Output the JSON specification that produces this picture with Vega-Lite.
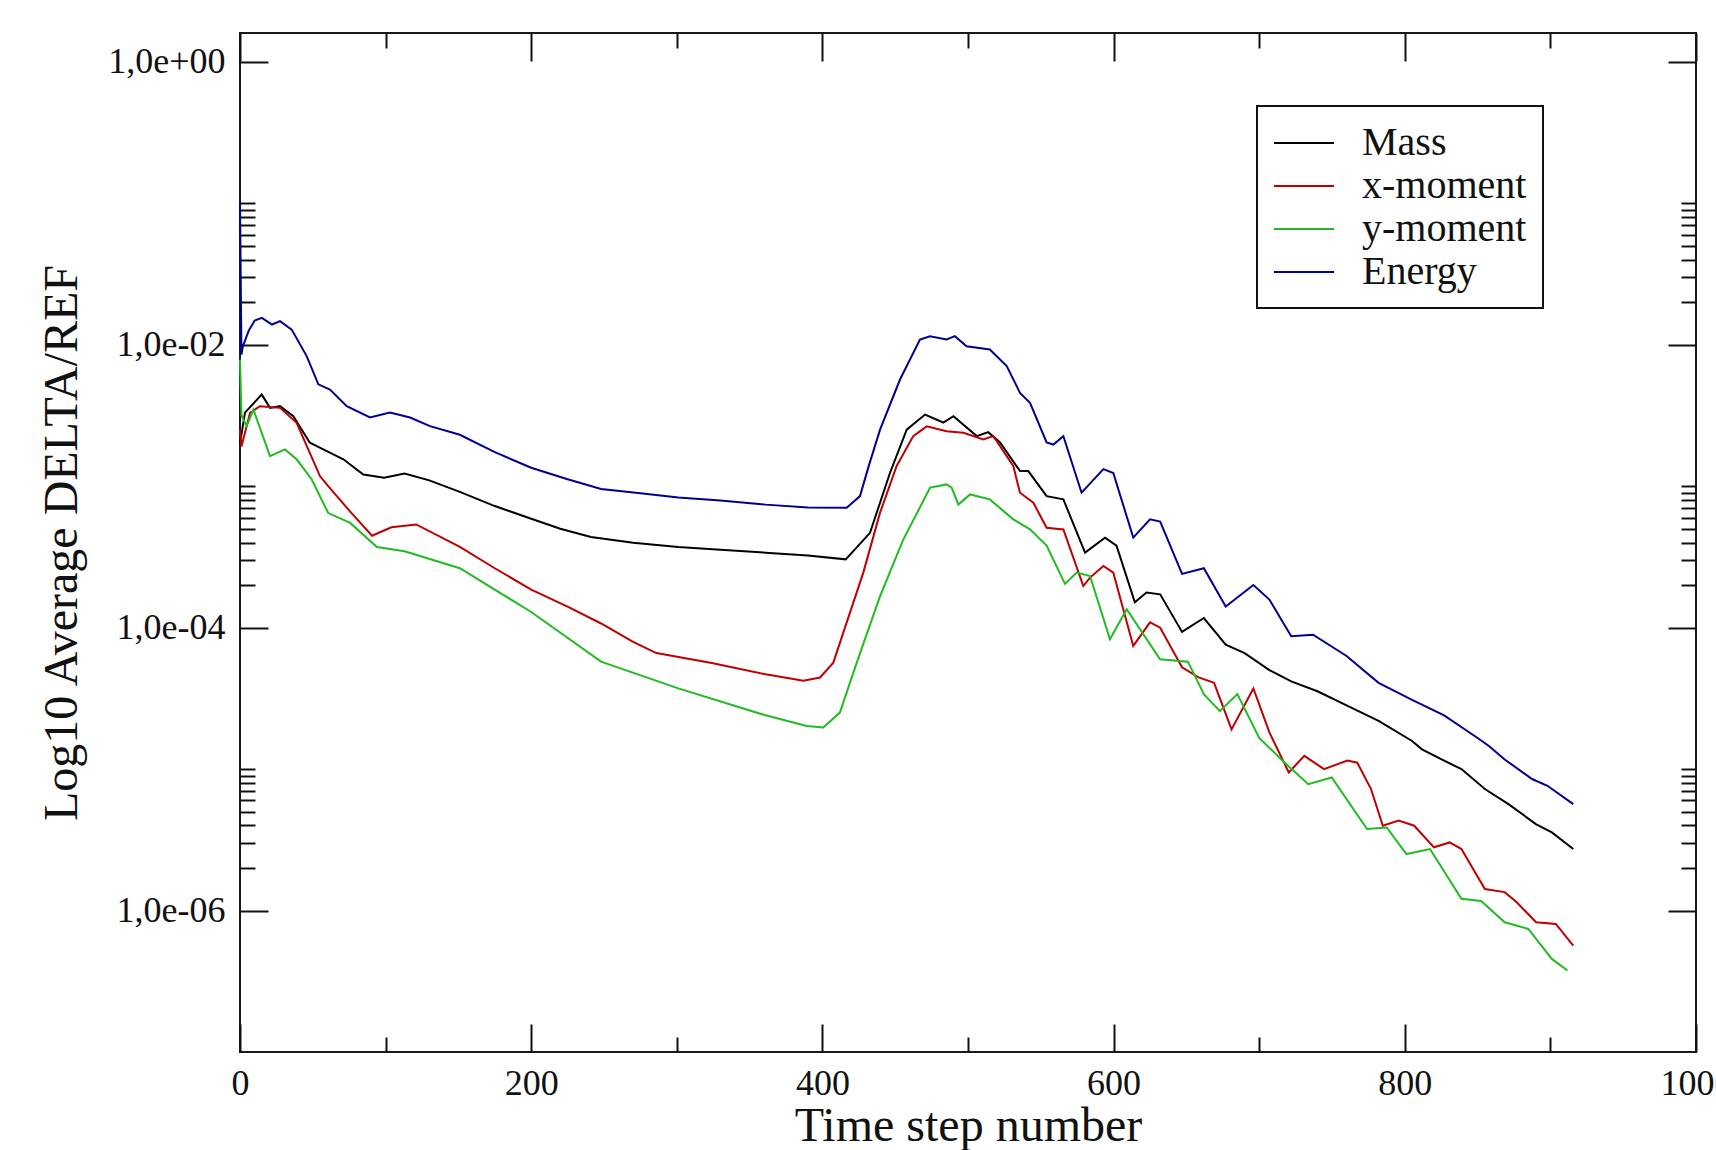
{
  "$schema": "https://vega.github.io/schema/vega-lite/v6.json",
  "width": 1456,
  "height": 1019,
  "autosize": {"type": "none"},
  "padding": {"left": 240, "top": 33, "right": 20, "bottom": 98},
  "background": "#ffffff",
  "config": {
    "view": {"stroke": "#1a1a1a", "strokeWidth": 2},
    "axis": {"grid": false, "domain": false, "tickColor": "#111111", "tickWidth": 2, "labelFont": "Liberation Serif", "labelFontSize": 36, "labelColor": "#111111", "titleFont": "Liberation Serif", "titleFontSize": 48, "titleFontWeight": "normal", "titleColor": "#111111", "labelFlush": false, "labelOverlap": false},
    "legend": {"orient": "none", "legendX": 1017, "legendY": 73, "strokeColor": "#111111", "strokeWidth": 2, "fillColor": "#ffffff", "padding": 16, "labelFont": "Liberation Serif", "labelFontSize": 40, "labelColor": "#111111", "labelLimit": 0, "symbolType": "M-1,0H2", "symbolSize": 1600, "symbolStrokeWidth": 2, "labelOffset": 47, "rowPadding": 2, "titleFontSize": 0}
  },
  "datasets": {
    "d": [
      {"s":"Energy","t":0,"v":0.102},{"s":"Energy","t":1,"v":0.00851},{"s":"Energy","t":2,"v":0.00977},{"s":"Energy","t":6,"v":0.0126},{"s":"Energy","t":10,"v":0.0148},{"s":"Energy","t":15,"v":0.0155},{"s":"Energy","t":22,"v":0.0139},{"s":"Energy","t":27.5,"v":0.0147},{"s":"Energy","t":35.5,"v":0.0128},{"s":"Energy","t":45.8,"v":0.00832},{"s":"Energy","t":53.8,"v":0.00525},{"s":"Energy","t":61.8,"v":0.00483},{"s":"Energy","t":73.3,"v":0.00368},{"s":"Energy","t":89.3,"v":0.00306},{"s":"Energy","t":103,"v":0.00332},{"s":"Energy","t":116.8,"v":0.00306},{"s":"Energy","t":130.5,"v":0.00266},{"s":"Energy","t":151,"v":0.00231},{"s":"Energy","t":175,"v":0.00174},{"s":"Energy","t":200,"v":0.00135},{"s":"Energy","t":225,"v":0.00112},{"s":"Energy","t":248,"v":0.000955},{"s":"Energy","t":275,"v":0.000891},{"s":"Energy","t":301,"v":0.000832},{"s":"Energy","t":330,"v":0.000794},{"s":"Energy","t":361,"v":0.000741},{"s":"Energy","t":390,"v":0.000708},{"s":"Energy","t":416.7,"v":0.000705},{"s":"Energy","t":425.8,"v":0.000851},{"s":"Energy","t":432,"v":0.00141},{"s":"Energy","t":439.6,"v":0.00251},{"s":"Energy","t":453.3,"v":0.00568},{"s":"Energy","t":467,"v":0.0109},{"s":"Energy","t":473.9,"v":0.0115},{"s":"Energy","t":485.3,"v":0.0109},{"s":"Energy","t":491,"v":0.0115},{"s":"Energy","t":499,"v":0.00977},{"s":"Energy","t":515,"v":0.00925},{"s":"Energy","t":526.6,"v":0.00708},{"s":"Energy","t":535.7,"v":0.00457},{"s":"Energy","t":542.6,"v":0.00389},{"s":"Energy","t":554,"v":0.00204},{"s":"Energy","t":558.6,"v":0.00197},{"s":"Energy","t":565.5,"v":0.00226},{"s":"Energy","t":578,"v":0.0009},{"s":"Energy","t":593,"v":0.00132},{"s":"Energy","t":599.8,"v":0.00124},{"s":"Energy","t":613.5,"v":0.000433},{"s":"Energy","t":625,"v":0.000583},{"s":"Energy","t":632,"v":0.000562},{"s":"Energy","t":647,"v":0.00024},{"s":"Energy","t":662,"v":0.000263},{"s":"Energy","t":677,"v":0.000141},{"s":"Energy","t":696,"v":0.0002},{"s":"Energy","t":707,"v":0.000158},{"s":"Energy","t":722,"v":0.0000871},{"s":"Energy","t":737,"v":0.0000891},{"s":"Energy","t":760,"v":0.0000631},{"s":"Energy","t":782,"v":0.0000407},{"s":"Energy","t":805,"v":0.0000309},{"s":"Energy","t":827,"v":0.000024},{"s":"Energy","t":850,"v":0.0000166},{"s":"Energy","t":858,"v":0.0000145},{"s":"Energy","t":868.6,"v":0.0000117},{"s":"Energy","t":887.4,"v":0.00000851},{"s":"Energy","t":898,"v":0.00000762},{"s":"Energy","t":915.7,"v":0.00000566},
      {"s":"Mass","t":0,"v":0.002},{"s":"Mass","t":3.4,"v":0.00331},{"s":"Mass","t":14.9,"v":0.00445},{"s":"Mass","t":20.6,"v":0.00358},{"s":"Mass","t":27.5,"v":0.00368},{"s":"Mass","t":36.6,"v":0.00313},{"s":"Mass","t":48,"v":0.00203},{"s":"Mass","t":57.2,"v":0.00182},{"s":"Mass","t":71,"v":0.00155},{"s":"Mass","t":84.7,"v":0.00121},{"s":"Mass","t":99,"v":0.00115},{"s":"Mass","t":113,"v":0.00123},{"s":"Mass","t":130,"v":0.0011},{"s":"Mass","t":151,"v":0.000912},{"s":"Mass","t":175,"v":0.000724},{"s":"Mass","t":200,"v":0.000589},{"s":"Mass","t":220,"v":0.000501},{"s":"Mass","t":241,"v":0.000437},{"s":"Mass","t":270,"v":0.000398},{"s":"Mass","t":301,"v":0.000372},{"s":"Mass","t":330,"v":0.000355},{"s":"Mass","t":361,"v":0.000339},{"s":"Mass","t":390,"v":0.000324},{"s":"Mass","t":416,"v":0.000304},{"s":"Mass","t":432.7,"v":0.000468},{"s":"Mass","t":446.4,"v":0.00124},{"s":"Mass","t":457.9,"v":0.00251},{"s":"Mass","t":470.5,"v":0.00321},{"s":"Mass","t":483,"v":0.00282},{"s":"Mass","t":490,"v":0.00313},{"s":"Mass","t":506,"v":0.00226},{"s":"Mass","t":513.9,"v":0.00241},{"s":"Mass","t":522,"v":0.00204},{"s":"Mass","t":535.7,"v":0.00128},{"s":"Mass","t":541.4,"v":0.00128},{"s":"Mass","t":554,"v":0.000851},{"s":"Mass","t":565.5,"v":0.000807},{"s":"Mass","t":580.4,"v":0.000339},{"s":"Mass","t":594.1,"v":0.000433},{"s":"Mass","t":602,"v":0.00038},{"s":"Mass","t":614.6,"v":0.000151},{"s":"Mass","t":622.6,"v":0.000177},{"s":"Mass","t":632,"v":0.000172},{"s":"Mass","t":647,"v":0.0000933},{"s":"Mass","t":662,"v":0.000117},{"s":"Mass","t":677,"v":0.0000759},{"s":"Mass","t":690,"v":0.0000661},{"s":"Mass","t":707,"v":0.0000501},{"s":"Mass","t":722,"v":0.0000417},{"s":"Mass","t":740,"v":0.0000355},{"s":"Mass","t":760,"v":0.0000282},{"s":"Mass","t":782,"v":0.0000219},{"s":"Mass","t":805,"v":0.0000158},{"s":"Mass","t":811.8,"v":0.0000138},{"s":"Mass","t":825.3,"v":0.0000117},{"s":"Mass","t":838.9,"v":0.00001},{"s":"Mass","t":855,"v":0.00000723},{"s":"Mass","t":871.2,"v":0.00000566},{"s":"Mass","t":890,"v":0.00000409},{"s":"Mass","t":901,"v":0.00000357},{"s":"Mass","t":915.7,"v":0.00000272},
      {"s":"x-moment","t":0,"v":0.00251},{"s":"x-moment","t":1,"v":0.00191},{"s":"x-moment","t":6.9,"v":0.0033},{"s":"x-moment","t":13.7,"v":0.00368},{"s":"x-moment","t":27.5,"v":0.00358},{"s":"x-moment","t":38.9,"v":0.00281},{"s":"x-moment","t":54.9,"v":0.00118},{"s":"x-moment","t":60.6,"v":0.001},{"s":"x-moment","t":75.7,"v":0.000661},{"s":"x-moment","t":90.7,"v":0.000447},{"s":"x-moment","t":104,"v":0.000513},{"s":"x-moment","t":121,"v":0.000537},{"s":"x-moment","t":151,"v":0.000372},{"s":"x-moment","t":175,"v":0.000263},{"s":"x-moment","t":200,"v":0.000186},{"s":"x-moment","t":225,"v":0.000141},{"s":"x-moment","t":248,"v":0.000107},{"s":"x-moment","t":270,"v":0.0000794},{"s":"x-moment","t":286,"v":0.0000661},{"s":"x-moment","t":324,"v":0.0000562},{"s":"x-moment","t":361,"v":0.0000468},{"s":"x-moment","t":386.9,"v":0.0000421},{"s":"x-moment","t":398.4,"v":0.0000444},{"s":"x-moment","t":407.5,"v":0.0000566},{"s":"x-moment","t":416.7,"v":0.000109},{"s":"x-moment","t":428.1,"v":0.000245},{"s":"x-moment","t":439.6,"v":0.00065},{"s":"x-moment","t":451,"v":0.00139},{"s":"x-moment","t":462.4,"v":0.00226},{"s":"x-moment","t":471.6,"v":0.00265},{"s":"x-moment","t":485.3,"v":0.00245},{"s":"x-moment","t":496.8,"v":0.00239},{"s":"x-moment","t":510.5,"v":0.00214},{"s":"x-moment","t":517.4,"v":0.00226},{"s":"x-moment","t":531.1,"v":0.00139},{"s":"x-moment","t":535.7,"v":0.0009},{"s":"x-moment","t":544.9,"v":0.000764},{"s":"x-moment","t":554,"v":0.000509},{"s":"x-moment","t":565.5,"v":0.000495},{"s":"x-moment","t":579.2,"v":0.000197},{"s":"x-moment","t":583.8,"v":0.000226},{"s":"x-moment","t":593,"v":0.000273},{"s":"x-moment","t":599.8,"v":0.000245},{"s":"x-moment","t":613.5,"v":0.0000743},{"s":"x-moment","t":625,"v":0.000109},{"s":"x-moment","t":632,"v":0.0001},{"s":"x-moment","t":647,"v":0.0000525},{"s":"x-moment","t":658,"v":0.0000447},{"s":"x-moment","t":669,"v":0.0000407},{"s":"x-moment","t":681,"v":0.0000191},{"s":"x-moment","t":696,"v":0.0000372},{"s":"x-moment","t":707,"v":0.0000182},{"s":"x-moment","t":720.3,"v":0.00000948},{"s":"x-moment","t":731,"v":0.0000124},{"s":"x-moment","t":744.5,"v":0.00001},{"s":"x-moment","t":760.6,"v":0.0000115},{"s":"x-moment","t":767.4,"v":0.0000111},{"s":"x-moment","t":776.8,"v":0.00000723},{"s":"x-moment","t":784.9,"v":0.00000398},{"s":"x-moment","t":795.7,"v":0.00000432},{"s":"x-moment","t":806.5,"v":0.00000398},{"s":"x-moment","t":820,"v":0.0000028},{"s":"x-moment","t":830.8,"v":0.00000303},{"s":"x-moment","t":838.9,"v":0.00000272},{"s":"x-moment","t":855,"v":0.00000142},{"s":"x-moment","t":868.6,"v":0.00000135},{"s":"x-moment","t":876.7,"v":0.00000115},{"s":"x-moment","t":890.2,"v":0.000000826},{"s":"x-moment","t":903.7,"v":0.000000804},{"s":"x-moment","t":915.7,"v":0.000000565},
      {"s":"y-moment","t":0,"v":0.00785},{"s":"y-moment","t":1,"v":0.00316},{"s":"y-moment","t":4.6,"v":0.00266},{"s":"y-moment","t":9.2,"v":0.00348},{"s":"y-moment","t":20.6,"v":0.00163},{"s":"y-moment","t":30.9,"v":0.00182},{"s":"y-moment","t":38.9,"v":0.00155},{"s":"y-moment","t":49.2,"v":0.00112},{"s":"y-moment","t":60.6,"v":0.000646},{"s":"y-moment","t":75.7,"v":0.00055},{"s":"y-moment","t":94,"v":0.000372},{"s":"y-moment","t":113,"v":0.000347},{"s":"y-moment","t":151,"v":0.000263},{"s":"y-moment","t":200,"v":0.000129},{"s":"y-moment","t":248,"v":0.0000575},{"s":"y-moment","t":301,"v":0.0000372},{"s":"y-moment","t":361,"v":0.000024},{"s":"y-moment","t":389.2,"v":0.0000202},{"s":"y-moment","t":400.6,"v":0.0000197},{"s":"y-moment","t":412,"v":0.0000251},{"s":"y-moment","t":423.6,"v":0.0000566},{"s":"y-moment","t":439.6,"v":0.000167},{"s":"y-moment","t":455.6,"v":0.000421},{"s":"y-moment","t":474,"v":0.000977},{"s":"y-moment","t":485.3,"v":0.00103},{"s":"y-moment","t":488.8,"v":0.000977},{"s":"y-moment","t":493.4,"v":0.000743},{"s":"y-moment","t":501.4,"v":0.000875},{"s":"y-moment","t":515,"v":0.000807},{"s":"y-moment","t":531.1,"v":0.000583},{"s":"y-moment","t":542.6,"v":0.000495},{"s":"y-moment","t":554,"v":0.00038},{"s":"y-moment","t":566.6,"v":0.000204},{"s":"y-moment","t":574.7,"v":0.000245},{"s":"y-moment","t":583.8,"v":0.000232},{"s":"y-moment","t":597.5,"v":0.0000828},{"s":"y-moment","t":609,"v":0.000135},{"s":"y-moment","t":631.9,"v":0.0000598},{"s":"y-moment","t":651,"v":0.0000575},{"s":"y-moment","t":662,"v":0.0000339},{"s":"y-moment","t":673,"v":0.0000257},{"s":"y-moment","t":685,"v":0.0000339},{"s":"y-moment","t":700,"v":0.0000166},{"s":"y-moment","t":717.5,"v":0.0000111},{"s":"y-moment","t":733.7,"v":0.00000783},{"s":"y-moment","t":749.8,"v":0.00000873},{"s":"y-moment","t":774.1,"v":0.00000377},{"s":"y-moment","t":787.6,"v":0.00000387},{"s":"y-moment","t":801.1,"v":0.00000251},{"s":"y-moment","t":817.3,"v":0.00000272},{"s":"y-moment","t":838.9,"v":0.00000121},{"s":"y-moment","t":852.4,"v":0.00000117},{"s":"y-moment","t":868.6,"v":0.000000826},{"s":"y-moment","t":884.8,"v":0.000000741},{"s":"y-moment","t":901,"v":0.000000455},{"s":"y-moment","t":911.7,"v":0.000000377}
    ]
  },
  "data": {"name": "d"},
  "layer": [
    {
      "mark": {"type": "line", "strokeWidth": 2},
      "encoding": {
        "x": {"field": "t", "type": "quantitative", "scale": {"domain": [0, 1000], "nice": false, "zero": false},
              "axis": {"orient": "bottom", "values": [0, 200, 400, 600, 800, 1000], "format": "d", "tickSize": -28, "labelPadding": 42, "title": "Time step number", "titleY": 74, "titleBaseline": "middle"}},
        "y": {"field": "v", "type": "quantitative", "scale": {"type": "log", "domain": [1e-7, 1.6], "nice": false},
              "axis": {"orient": "left", "values": [0.000001, 0.0001, 0.01, 1], "labelExpr": "datum.value >= 1 ? '1,0e+00' : '1,0e-0' + round(-log(datum.value)/LN10)", "tickSize": -28, "labelPadding": 43, "title": "Log10 Average DELTA/REF", "titleX": -178, "titleBaseline": "middle"}},
        "color": {"field": "s", "type": "nominal", "scale": {"domain": ["Mass", "x-moment", "y-moment", "Energy"], "range": ["#000000", "#c00000", "#22bb22", "#000090"]}, "legend": {"title": null}}
      }
    },
    {
      "mark": {"type": "point", "opacity": 0},
      "encoding": {
        "x": {"field": "t", "type": "quantitative", "scale": {"domain": [0, 1000], "nice": false, "zero": false},
              "axis": {"orient": "top", "values": [0, 200, 400, 600, 800, 1000], "tickSize": -28, "labels": false, "title": null}},
        "y": {"field": "v", "type": "quantitative", "scale": {"type": "log", "domain": [1e-7, 1.6], "nice": false},
              "axis": {"orient": "right", "values": [0.000001, 0.0001, 0.01, 1], "tickSize": -28, "labels": false, "title": null}}
      }
    },
    {
      "mark": {"type": "point", "opacity": 0},
      "encoding": {
        "x": {"field": "t", "type": "quantitative", "scale": {"domain": [0, 1000], "nice": false, "zero": false},
              "axis": {"orient": "bottom", "values": [100, 300, 500, 700, 900], "tickSize": -15, "labels": false, "title": null}},
        "y": {"field": "v", "type": "quantitative", "scale": {"type": "log", "domain": [1e-7, 1.6], "nice": false},
              "axis": {"orient": "left", "values": [0.000002, 0.000003, 0.000004, 0.000005, 0.000006, 0.000007, 0.000008, 0.000009, 0.00001, 0.0002, 0.0003, 0.0004, 0.0005, 0.0006, 0.0007, 0.0008, 0.0009, 0.001, 0.02, 0.03, 0.04, 0.05, 0.06, 0.07, 0.08, 0.09, 0.1], "tickSize": -15, "labels": false, "title": null}}
      }
    },
    {
      "mark": {"type": "point", "opacity": 0},
      "encoding": {
        "x": {"field": "t", "type": "quantitative", "scale": {"domain": [0, 1000], "nice": false, "zero": false},
              "axis": {"orient": "top", "values": [100, 300, 500, 700, 900], "tickSize": -15, "labels": false, "title": null}},
        "y": {"field": "v", "type": "quantitative", "scale": {"type": "log", "domain": [1e-7, 1.6], "nice": false},
              "axis": {"orient": "right", "values": [0.000002, 0.000003, 0.000004, 0.000005, 0.000006, 0.000007, 0.000008, 0.000009, 0.00001, 0.0002, 0.0003, 0.0004, 0.0005, 0.0006, 0.0007, 0.0008, 0.0009, 0.001, 0.02, 0.03, 0.04, 0.05, 0.06, 0.07, 0.08, 0.09, 0.1], "tickSize": -15, "labels": false, "title": null}}
      }
    }
  ],
  "resolve": {"axis": {"x": "independent", "y": "independent"}}
}
